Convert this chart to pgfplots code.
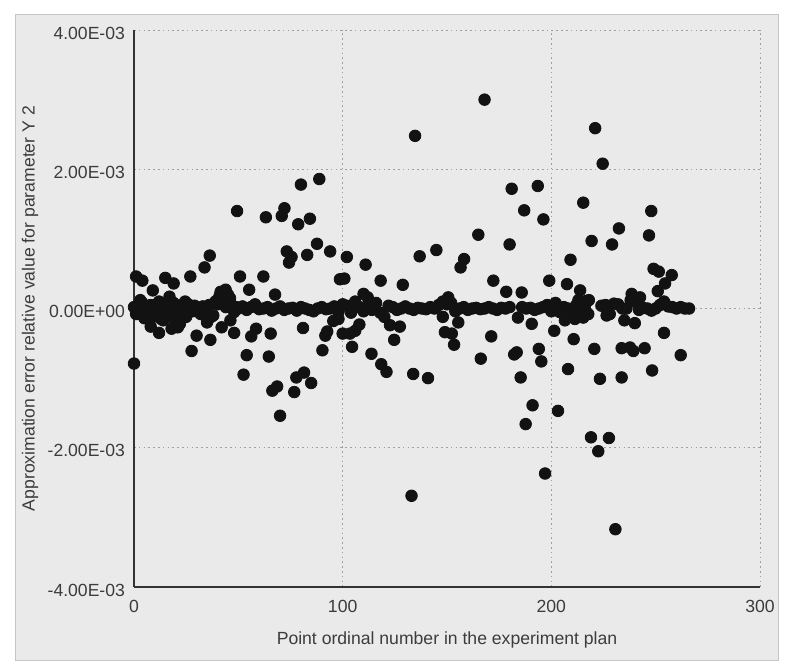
\documentclass[border=0pt]{standalone}
\usepackage{pgfplots}
\pgfplotsset{compat=1.18}
\usepackage{pgfplotstable}
\usepackage{fontspec}
\setmainfont{Liberation Sans}
\definecolor{panel}{RGB}{234,234,234}
\definecolor{txt}{RGB}{60,60,60}
\definecolor{dot}{RGB}{18,18,18}

% outlying points: x, y
\pgfplotstableread{
x y
0 -0.79e-3
1 0.46e-3
4 0.40e-3
8 -0.26e-3
9 0.26e-3
12 -0.35e-3
14 -0.17e-3
15 0.44e-3
17 0.17e-3
18 -0.29e-3
19 0.36e-3
21 -0.27e-3
22 -0.22e-3
24.5 0.10e-3
27 0.46e-3
27.6 -0.61e-3
30 -0.39e-3
33.8 0.59e-3
35 -0.20e-3
36.3 0.76e-3
36.6 -0.45e-3
40 0.12e-3
41.5 0.24e-3
42 -0.27e-3
43.9 0.27e-3
45 0.08e-3
46 0.15e-3
46.2 -0.17e-3
48 -0.35e-3
49.4 1.40e-3
50.8 0.46e-3
52.5 -0.95e-3
54 -0.67e-3
55.2 0.27e-3
56.2 -0.40e-3
58.5 -0.29e-3
62 0.46e-3
63.2 1.31e-3
64.6 -0.69e-3
65.5 -0.36e-3
66.3 -1.18e-3
67.6 0.20e-3
68.6 -1.12e-3
70 -1.54e-3
70.8 1.33e-3
72.1 1.44e-3
73.2 0.82e-3
74.3 0.66e-3
75.5 0.74e-3
76.8 -1.20e-3
77.8 -0.99e-3
78.7 1.21e-3
80 1.78e-3
81 -0.28e-3
81.5 -0.92e-3
83 0.77e-3
84.3 1.29e-3
84.9 -1.07e-3
87.7 0.93e-3
88.8 1.86e-3
90.3 -0.60e-3
91.7 -0.39e-3
92.6 -0.33e-3
94 0.82e-3
95.5 -0.18e-3
98 -0.15e-3
98.7 0.42e-3
100 -0.36e-3
100.8 0.43e-3
102 0.74e-3
103.5 -0.36e-3
104.5 -0.55e-3
106 -0.32e-3
108 -0.23e-3
110 0.21e-3
111 0.63e-3
112 0.16e-3
113.8 -0.65e-3
118.2 0.40e-3
118.5 -0.80e-3
121 -0.91e-3
122.7 -0.24e-3
124.7 -0.45e-3
127.4 -0.26e-3
128.8 0.34e-3
133 -2.69e-3
133.8 -0.94e-3
134.7 2.48e-3
136.9 0.75e-3
140.9 -1.00e-3
144.9 0.84e-3
148 -0.12e-3
149 -0.34e-3
150.6 0.16e-3
152.3 -0.36e-3
153.4 -0.52e-3
155.4 -0.20e-3
156.5 0.59e-3
158.2 0.71e-3
165 1.06e-3
166.2 -0.72e-3
168 3.00e-3
171.2 -0.40e-3
172.2 0.40e-3
178.4 0.24e-3
180 0.92e-3
181 1.72e-3
182.2 -0.66e-3
183.4 -0.63e-3
184 -0.13e-3
185.3 -0.99e-3
185.8 0.23e-3
187 1.41e-3
187.7 -1.66e-3
190.6 -0.22e-3
191 -1.39e-3
193.5 1.76e-3
194 -0.58e-3
195.2 -0.76e-3
196.2 1.28e-3
197 -2.37e-3
199 0.40e-3
201.4 -0.32e-3
203.2 -1.47e-3
206.5 -0.17e-3
207.5 0.35e-3
208 -0.87e-3
209.2 0.70e-3
210.7 -0.44e-3
211.3 -0.15e-3
213 0.12e-3
213.8 0.26e-3
215.3 -0.13e-3
215.3 1.52e-3
217 0.11e-3
217.7 -0.08e-3
219 -1.85e-3
219.3 0.97e-3
220.6 -0.58e-3
221 2.59e-3
222.5 -2.05e-3
223.3 -1.01e-3
224.6 2.08e-3
226.5 -0.10e-3
227.6 -1.86e-3
229.1 0.92e-3
230.7 -3.17e-3
232.4 1.15e-3
233.7 -0.57e-3
233.7 -0.99e-3
235 -0.17e-3
237.7 -0.56e-3
238.5 0.21e-3
239.3 -0.61e-3
240 -0.21e-3
242.5 0.16e-3
244.7 -0.57e-3
246.8 1.05e-3
247.9 1.40e-3
248.3 -0.89e-3
249 0.57e-3
251 0.25e-3
251.5 0.53e-3
254 -0.35e-3
254.5 0.36e-3
257.7 0.48e-3
262 -0.67e-3
}\outliers

% points close to zero: x, y
\pgfplotstableread{
x y
0 0.02e-3
1 -0.08e-3
2 -0.05e-3
3 0.12e-3
4 0.08e-3
5 -0.14e-3
6 -0.10e-3
7 0.03e-3
8 0.05e-3
9 -0.12e-3
10 -0.02e-3
11 0.06e-3
12 0.10e-3
13 -0.15e-3
14 -0.08e-3
15 0.02e-3
16 0.00e-3
17 -0.06e-3
18 -0.12e-3
19 0.08e-3
20 0.04e-3
21 -0.16e-3
22 -0.06e-3
23 0.05e-3
24 -0.02e-3
25 -0.12e-3
26 0.06e-3
27 -0.02e-3
28 -0.04e-3
29 0.04e-3
30 0.02e-3
31 -0.05e-3
32 -0.08e-3
33 0.03e-3
34 0.00e-3
35 -0.07e-3
36 0.05e-3
37 -0.12e-3
38 -0.10e-3
39 0.10e-3
40 0.06e-3
41 0.18e-3
42 0.12e-3
43 0.06e-3
44 0.02e-3
45 0.20e-3
46 0.10e-3
47 0.04e-3
48 -0.05e-3
49 0.02e-3
50 0.00e-3
52 0.03e-3
54 -0.02e-3
56 0.02e-3
58 0.06e-3
60 -0.01e-3
62 0.00e-3
64 0.02e-3
66 -0.03e-3
68 0.00e-3
70 0.03e-3
72 -0.02e-3
74 0.00e-3
76 0.01e-3
78 -0.03e-3
80 0.02e-3
82 0.00e-3
84 -0.02e-3
86 -0.04e-3
88 0.00e-3
90 0.02e-3
92 -0.01e-3
94 0.00e-3
96 0.03e-3
98 -0.05e-3
100 0.06e-3
102 0.04e-3
104 -0.06e-3
106 0.10e-3
108 0.02e-3
110 -0.04e-3
112 0.05e-3
114 -0.02e-3
116 0.08e-3
118 -0.06e-3
120 -0.12e-3
122 0.04e-3
124 0.02e-3
126 -0.02e-3
128 0.00e-3
130 0.03e-3
132 0.00e-3
134 -0.02e-3
136 0.01e-3
138 0.00e-3
140 -0.01e-3
142 0.02e-3
144 0.00e-3
146 0.05e-3
148 0.10e-3
150 0.06e-3
152 0.08e-3
154 -0.04e-3
156 0.00e-3
158 0.02e-3
160 -0.02e-3
162 0.00e-3
164 0.01e-3
166 -0.01e-3
168 0.00e-3
170 0.02e-3
172 0.00e-3
174 -0.02e-3
176 0.01e-3
178 0.00e-3
180 0.02e-3
186 0.02e-3
188 0.00e-3
190 0.01e-3
192 -0.02e-3
194 0.00e-3
196 0.02e-3
198 0.05e-3
200 -0.04e-3
202 0.08e-3
204 -0.05e-3
206 0.02e-3
208 0.00e-3
210 -0.10e-3
212 0.05e-3
214 -0.08e-3
216 0.02e-3
218 0.12e-3
224 0.04e-3
226 0.05e-3
228 -0.08e-3
230 0.07e-3
232 0.06e-3
234 0.00e-3
236 0.00e-3
238 0.12e-3
240 0.10e-3
242 -0.02e-3
244 0.01e-3
246 0.00e-3
248 -0.03e-3
250 0.00e-3
252 0.05e-3
254 0.10e-3
256 0.03e-3
258 0.02e-3
260 0.00e-3
262 0.02e-3
264 0.00e-3
266 0.00e-3
}\nearzero

\begin{document}
\begin{tikzpicture}
\path[use as bounding box, fill=white] (0,0) rectangle (393pt,335pt);
\draw[gray!45, line width=0.5pt, fill=panel] (7.5pt,5pt) rectangle (389pt,327.5pt);
\begin{axis}[
  at={(67pt,41.5pt)}, anchor=south west,
  scale only axis, width=313pt, height=278.5pt,
  xmin=0, xmax=300, ymin=-0.004, ymax=0.004,
  xtick={0,100,200,300},
  ytick={-0.004,-0.002,0,0.002,0.004},
  yticklabels={-4.00E-03,-2.00E-03,0.00E+00,2.00E-03,4.00E-03},
  scaled y ticks=false, scaled x ticks=false,
  /pgf/number format/assume math mode=true,
  axis x line*=bottom, axis y line*=left,
  axis line style={black!80, line width=0.7pt, -},
  grid=major,
  major grid style={gray!75, line width=0.45pt, dash pattern=on 0.8pt off 1.6pt},
  major tick length=0pt,
  tick label style={font=\fontsize{8.8}{10}\selectfont, text=txt},
  xticklabel style={yshift=-3pt},
  yticklabel style={xshift=-1pt, yshift=-1.5pt},
  label style={font=\fontsize{8.8}{10}\selectfont, text=txt},
  xlabel={Point ordinal number in the experiment plan},
  ylabel={Approximation error relative value for parameter Y 2},
  xlabel style={at={(axis description cs:0.5,-0.095)}, anchor=center},
  ylabel style={at={(axis description cs:-0.166,0.5)}, anchor=center},
  clip=false,
]
\addplot[only marks, mark=*, mark size=2.9pt, mark options={draw=dot, fill=dot}] table[x=x, y=y] {\nearzero};
\addplot[only marks, mark=*, mark size=2.9pt, mark options={draw=dot, fill=dot}] table[x=x, y=y] {\outliers};
\end{axis}
\end{tikzpicture}
\end{document}
